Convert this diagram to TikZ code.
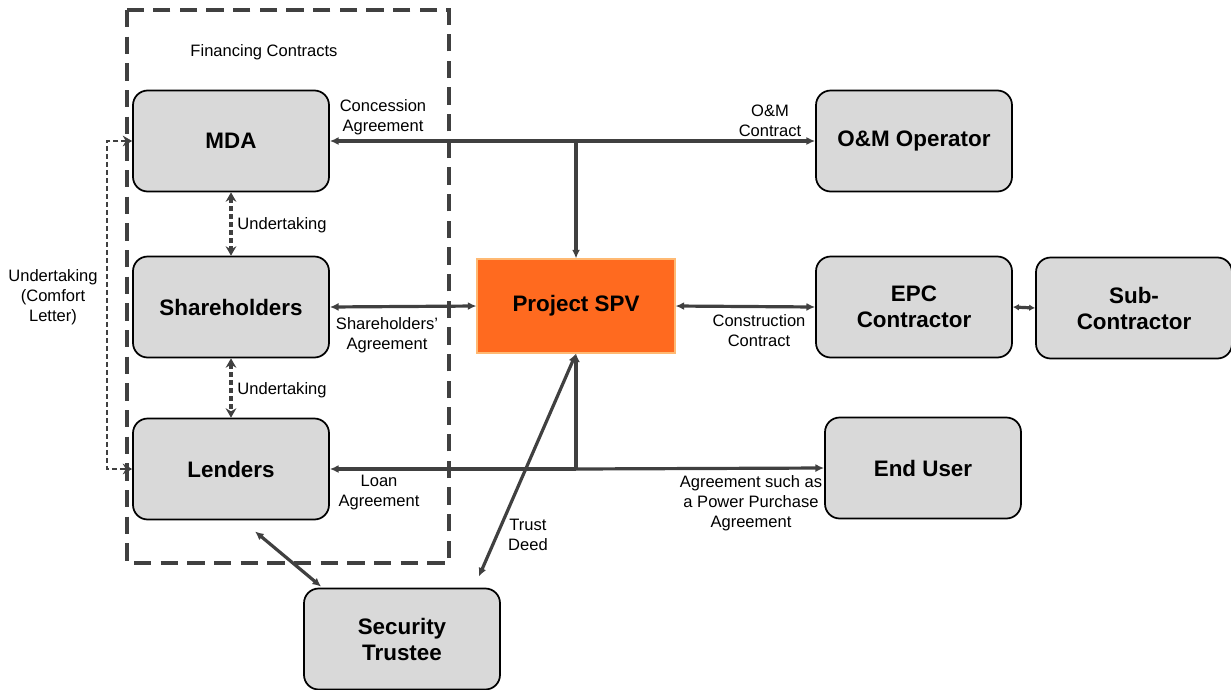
\documentclass[tikz,border=0pt]{standalone}
\usepackage{fontspec}
\setmainfont{Liberation Sans}
\usetikzlibrary{arrows.meta,calc,positioning}
\definecolor{linegray}{HTML}{404040}
\definecolor{boxgray}{HTML}{D9D9D9}
\definecolor{spvorange}{HTML}{FF6A1F}

\begin{document}
\begin{tikzpicture}
	[
	x=0.75pt, y=-0.75pt,
	> = {Latex[length=6.5pt,width=6pt]},
	party/.style = {draw=black, line width=1.3pt, fill=boxgray, rounded corners=11pt, minimum width=147pt, minimum height=75.75pt, align=center, font=\fontsize{16.8}{19.5}\selectfont\bfseries},
	spvbox/.style = {draw=orange!55, line width=0.8pt, fill=spvorange, minimum width=148.5pt, minimum height=70.5pt, font=\fontsize{16.8}{19.5}\selectfont\bfseries},
	link/.style = {draw=linegray, line width=2.4pt},
	undertake/.style = {draw=linegray, line width=2.4pt, dash pattern=on 3.75pt off 2.25pt, {Stealth[length=7pt,width=8pt]}-{Stealth[length=7pt,width=8pt]}},
	comfort/.style = {draw=linegray, line width=2pt, dash pattern=on 3.75pt off 2.25pt, {Stealth[length=7pt,width=8pt]}-{Stealth[length=7pt,width=8pt]}},
	finbox/.style = {draw=linegray, line width=2.5pt, dash pattern=on 13pt off 7pt},
	lbl/.style = {align=center, font=\fontsize{12.4}{15}\selectfont, inner sep=0pt}
	]
	\useasboundingbox (0,0) rectangle (1231,689);

	% financing contracts frame
	\draw[finbox] (127,10) rectangle (449,563);
	\node[lbl] (fincon) at (264,52) {Financing Contracts};

	% parties
	\node[party] (mda) at (231,141) {MDA};
	\node[party] (share) at (231,307) {Shareholders};
	\node[party] (lenders) at (231,469) {Lenders};
	\node[spvbox] (spv) at (576,306) {Project SPV};
	\node[party] (om) at (914,141) {O\&M Operator};
	\node[party] (epc) at (914,307) {EPC\\Contractor};
	\node[party] (sub) at (1134,308) {Sub-\\Contractor};
	\node[party] (enduser) at (923,468) {End User};
	\node[party] (trustee) at (402,639) {Security\\Trustee};

	% contracts
	\coordinate (topjoin) at (spv.north |- mda.east);
	\coordinate (botjoin) at (spv.south |- lenders.east);
	\coordinate (deedend) at ($(trustee.north east)+(-22,-11)$);
	\coordinate (secstart) at ($(lenders.south)+(24,11)$);
	\coordinate (secend) at ($(trustee.north west)+(18,-1)$);
	\draw[link,<->] (mda.east) -- (om.west);
	\draw[link,->] (topjoin) -- (spv.north);
	\draw[link,<->] (share.east) -- (spv.west);
	\draw[link,<->] (spv.east) -- (epc.west);
	\draw[link,{Latex[length=4.5pt,width=5pt]}-{Latex[length=4.5pt,width=5pt]}] (epc.east) -- (sub.west);
	\draw[link,->] (botjoin) -- (lenders.east);
	\draw[link,->] (botjoin) -- (spv.south);
	\draw[link,->] (botjoin) -- (enduser.west);
	\draw[link,<->] (spv.south) -- (deedend);
	\draw[link,<->] (secstart) -- (secend);
	\draw[undertake] (mda.south) -- (share.north);
	\draw[undertake] (share.south) -- (lenders.north);
	\draw[comfort] (mda.west) -- ++(-25,0) |- (lenders.west);

	% labels
	\node[lbl] (conc) at (383,117) {Concession\\Agreement};
	\node[lbl] (omc) at (770,121) {O\&M\\Contract};
	\node[lbl] (und1) at (282,225) {Undertaking};
	\node[lbl] (und2) at (282,390) {Undertaking};
	\node[lbl] (shagr) at (387,335) {Shareholders’\\Agreement};
	\node[lbl] (cons) at (759,331) {Construction\\Contract};
	\node[lbl] (loan) at (379,493) {Loan\\Agreement};
	\node[lbl] (ppa) at (751,503) {Agreement such as\\a Power Purchase\\Agreement};
	\node[lbl] (trust) at (528,535) {Trust\\Deed};
	\node[lbl] (comfortlbl) at (53,297) {Undertaking\\(Comfort\\Letter)};
\end{tikzpicture}
\end{document}
